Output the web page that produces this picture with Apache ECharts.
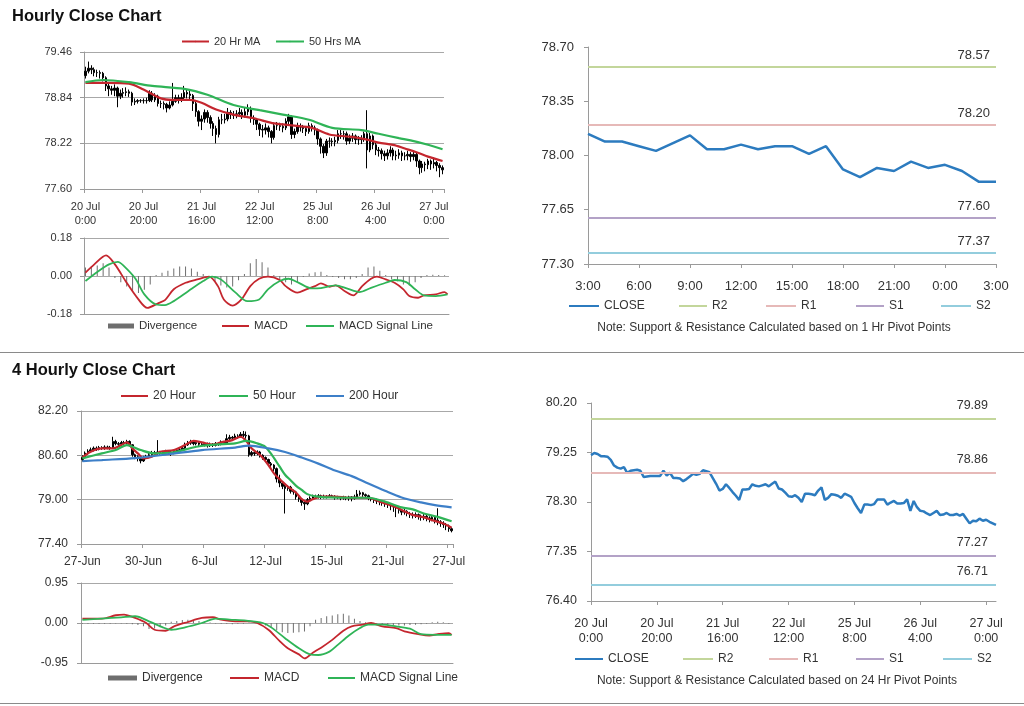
<!DOCTYPE html>
<html><head><meta charset="utf-8">
<script src="https://cdn.jsdelivr.net/npm/echarts@6/dist/echarts.min.js"></script>
<style>html,body{margin:0;padding:0;background:#fff}#c{width:1024px;height:706px}</style>
</head><body><div id="c"></div><script>
// ---------- tick labels ----------
const hourLabels = ['20 Jul\n0:00','20 Jul\n20:00','21 Jul\n16:00','22 Jul\n12:00','25 Jul\n8:00','26 Jul\n4:00','27 Jul\n0:00'];
const fourHLabels = ['27-Jun','30-Jun','6-Jul','12-Jul','15-Jul','21-Jul','27-Jul'];
const pivotHours = ['3:00','4:00','5:00','6:00','7:00','8:00','9:00','10:00','11:00','12:00','13:00','14:00','15:00','16:00','17:00','18:00','19:00','20:00','21:00','22:00','23:00','0:00','1:00','2:00','3:00'];

// ---------- hourly OHLC (20 Jul 0:00 .. 27 Jul ~3:00) ----------
const hOpen = [79.14,79.20,79.24,79.22,79.18,79.18,79.17,79.11,79.00,78.96,78.94,78.97,78.86,78.90,78.91,78.92,78.90,78.78,78.79,78.80,78.80,78.80,78.80,78.90,78.81,78.86,78.76,78.76,78.75,78.70,78.74,78.79,78.84,78.82,78.84,78.91,78.89,78.87,78.76,78.65,78.52,78.55,78.64,78.57,78.49,78.42,78.34,78.54,78.54,78.55,78.64,78.61,78.60,78.62,78.64,78.60,78.65,78.69,78.56,78.54,78.48,78.41,78.40,78.43,78.38,78.30,78.46,78.46,78.45,78.43,78.52,78.58,78.34,78.38,78.45,78.44,78.42,78.38,78.46,78.43,78.40,78.28,78.18,78.09,78.25,78.25,78.24,78.26,78.35,78.35,78.35,78.25,78.29,78.32,78.27,78.27,78.28,78.35,78.13,78.32,78.20,78.13,78.12,78.08,78.05,78.09,78.13,78.05,78.06,78.09,78.05,78.05,78.07,78.04,78.07,77.98,77.89,77.94,77.93,77.98,77.94,77.96,77.92,77.89];
const hClose = [79.20,79.24,79.22,79.18,79.18,79.17,79.11,79.00,78.96,78.94,78.97,78.86,78.90,78.91,78.92,78.90,78.78,78.79,78.80,78.80,78.80,78.80,78.90,78.81,78.86,78.76,78.76,78.75,78.70,78.74,78.79,78.84,78.82,78.84,78.91,78.89,78.87,78.76,78.65,78.52,78.55,78.64,78.57,78.49,78.42,78.34,78.54,78.54,78.55,78.64,78.61,78.60,78.62,78.64,78.60,78.65,78.69,78.56,78.54,78.48,78.41,78.40,78.43,78.38,78.30,78.46,78.46,78.45,78.43,78.52,78.58,78.34,78.38,78.45,78.44,78.42,78.38,78.46,78.43,78.40,78.28,78.18,78.09,78.25,78.25,78.24,78.26,78.35,78.35,78.35,78.25,78.29,78.32,78.27,78.27,78.28,78.35,78.13,78.32,78.20,78.13,78.12,78.08,78.05,78.09,78.13,78.05,78.06,78.09,78.05,78.05,78.07,78.04,78.07,77.98,77.89,77.94,77.93,77.98,77.94,77.96,77.92,77.89,77.86];
const hLow = [79.10,79.17,79.16,79.13,79.12,79.10,79.06,78.93,78.86,78.88,78.86,78.71,78.82,78.84,78.86,78.85,78.73,78.74,78.76,78.77,78.76,78.76,78.78,78.78,78.78,78.72,78.70,78.68,78.64,78.68,78.72,78.77,78.76,78.78,78.80,78.83,78.80,78.66,78.58,78.45,78.40,78.50,78.50,78.42,78.32,78.22,78.30,78.48,78.49,78.52,78.55,78.55,78.56,78.58,78.55,78.57,78.60,78.50,78.47,78.40,78.32,78.30,78.34,78.30,78.22,78.27,78.40,78.39,78.37,78.40,78.46,78.28,78.29,78.35,78.38,78.36,78.32,78.35,78.38,78.33,78.20,78.08,78.02,78.05,78.16,78.18,78.18,78.22,78.28,78.27,78.20,78.21,78.24,78.21,78.20,78.21,78.24,77.88,78.10,78.14,78.06,78.04,78.00,77.98,78.00,78.04,77.99,77.99,78.01,77.98,77.99,77.99,77.97,77.99,77.90,77.80,77.82,77.84,77.87,77.86,77.88,77.84,77.76,77.80];
const hHigh = [79.26,79.33,79.28,79.25,79.22,79.21,79.19,79.13,79.03,79.00,79.02,78.99,78.95,78.97,78.98,78.95,78.92,78.83,78.82,78.82,78.83,78.84,78.94,78.93,78.90,78.88,78.80,78.79,78.77,78.79,79.04,78.88,78.88,78.90,79.00,78.95,78.93,78.89,78.79,78.67,78.60,78.68,78.67,78.60,78.52,78.46,78.58,78.62,78.62,78.70,78.67,78.66,78.67,78.70,78.68,78.70,78.75,78.72,78.60,78.56,78.50,78.47,78.49,78.46,78.40,78.50,78.51,78.50,78.49,78.56,78.62,78.60,78.42,78.50,78.49,78.47,78.45,78.50,78.49,78.46,78.42,78.30,78.21,78.28,78.30,78.29,78.31,78.40,78.40,78.39,78.38,78.34,78.36,78.34,78.32,78.33,78.38,78.67,78.36,78.34,78.23,78.17,78.15,78.12,78.14,78.18,78.16,78.12,78.14,78.12,78.10,78.12,78.10,78.12,78.10,78.00,77.98,77.97,78.01,78.00,78.03,77.98,77.95,77.92];
// moving averages [bar index, value]
const h20Ma = [[0,79.04],[8,79.04],[15,79.03],[20,78.95],[26,78.83],[30,78.81],[36,78.81],[40,78.77],[45,78.68],[51,78.61],[58,78.56],[65,78.49],[72,78.46],[78,78.43],[84,78.34],[91,78.31],[97,78.27],[101,78.23],[106,78.20],[110,78.15],[114,78.10],[118,78.04],[123,77.98]];
const h50Ma = [[0,79.05],[6,79.08],[15,79.05],[23,79.00],[34,78.96],[42,78.88],[51,78.74],[60,78.67],[68,78.61],[77,78.54],[85,78.43],[95,78.40],[101,78.35],[108,78.29],[112,78.26],[118,78.20],[123,78.14]];
const hMacd = [[0,0.016],[3,0.055],[7,0.098],[10,0.055],[14,-0.032],[18,-0.111],[21,-0.151],[25,-0.127],[27,-0.114],[30,-0.063],[34,-0.032],[38,-0.016],[42,-0.003],[45,-0.048],[47,-0.111],[50,-0.140],[53,-0.111],[56,-0.048],[59,-0.013],[62,-0.003],[66,-0.019],[68,-0.048],[72,-0.079],[75,-0.063],[78,-0.048],[80,-0.035],[83,-0.051],[85,-0.044],[88,-0.071],[91,-0.092],[94,-0.048],[97,-0.013],[99,-0.003],[102,-0.016],[105,-0.032],[108,-0.063],[110,-0.095],[113,-0.103],[115,-0.092],[119,-0.087],[122,-0.076],[123,-0.087]];
const hSignal = [[0,-0.024],[4,0.019],[8,0.055],[11,0.067],[13,0.048],[17,-0.013],[20,-0.087],[24,-0.135],[27,-0.138],[30,-0.119],[35,-0.071],[40,-0.024],[43,-0.003],[46,-0.016],[51,-0.079],[55,-0.119],[59,-0.111],[62,-0.063],[66,-0.024],[69,-0.013],[72,-0.029],[77,-0.059],[80,-0.057],[85,-0.044],[89,-0.060],[93,-0.076],[97,-0.056],[102,-0.032],[105,-0.019],[109,-0.029],[112,-0.063],[115,-0.092],[119,-0.095],[123,-0.087]];
// divergence, one value per two bars
const hDiv = [0.04,0.045,0.05,0.06,0.04,-0.01,-0.03,-0.05,-0.07,-0.08,-0.065,-0.04,0.005,0.015,0.025,0.035,0.045,0.045,0.035,0.02,0.01,-0.005,-0.025,-0.045,-0.055,-0.05,-0.02,0.01,0.06,0.08,0.065,0.04,0.005,-0.015,-0.03,-0.04,-0.03,-0.005,0.012,0.018,0.02,0.005,-0.005,-0.01,-0.015,-0.015,-0.01,0.01,0.04,0.045,0.025,0.005,-0.015,-0.025,-0.04,-0.045,-0.03,-0.01,0.005,0.006,0.005,0.004];

// ---------- 1 Hr pivot chart ----------
const pivotClose = [78.14,78.09,78.09,78.06,78.03,78.08,78.13,78.04,78.04,78.07,78.04,78.06,78.06,78.01,78.06,77.91,77.86,77.92,77.90,77.96,77.92,77.94,77.90,77.83,77.83];
const pivot1h = {R2:78.57, R1:78.20, S1:77.60, S2:77.37};
const pivot24h = {R2:79.89, R1:78.86, S1:77.27, S2:76.71};

// ---------- 4 hourly OHLC (27 Jun .. 27 Jul) ----------
const fOpen = [80.45,80.52,80.68,80.75,80.80,80.86,80.82,80.88,80.85,80.90,80.88,80.86,81.10,81.02,81.00,81.06,81.04,81.10,80.98,80.62,80.55,80.48,80.40,80.52,80.55,80.62,80.70,80.66,80.72,80.68,80.70,80.74,80.70,80.68,80.74,80.78,80.80,80.86,80.98,81.04,81.08,81.02,81.06,81.00,80.98,81.02,80.95,81.00,80.96,81.02,81.00,81.08,81.04,81.20,81.25,81.22,81.30,81.28,81.36,81.32,81.30,80.62,80.70,80.66,80.72,80.60,80.52,80.45,80.30,80.25,80.12,79.75,79.60,79.48,79.40,79.45,79.30,79.28,79.10,79.02,78.90,78.85,79.00,79.05,79.12,79.10,79.14,79.08,79.12,79.10,79.14,79.12,79.08,79.10,79.06,79.08,79.06,79.10,79.04,79.10,79.20,79.25,79.18,79.14,79.06,79.02,78.98,78.95,78.92,78.90,78.85,78.82,78.78,78.74,78.70,78.62,78.55,78.58,78.50,78.46,78.44,78.46,78.40,78.36,78.40,78.34,78.30,78.36,78.26,78.20,78.15,78.10,78.05,77.95];
const fClose = [80.52,80.68,80.75,80.80,80.86,80.82,80.88,80.85,80.90,80.88,80.86,81.10,81.02,81.00,81.06,81.04,81.10,80.98,80.62,80.55,80.48,80.40,80.52,80.55,80.62,80.70,80.66,80.72,80.68,80.70,80.74,80.70,80.68,80.74,80.78,80.80,80.86,80.98,81.04,81.08,81.02,81.06,81.00,80.98,81.02,80.95,81.00,80.96,81.02,81.00,81.08,81.04,81.20,81.25,81.22,81.30,81.28,81.36,81.32,81.30,80.62,80.70,80.66,80.72,80.60,80.52,80.45,80.30,80.25,80.12,79.75,79.60,79.48,79.40,79.45,79.30,79.28,79.10,79.02,78.90,78.85,79.00,79.05,79.12,79.10,79.14,79.08,79.12,79.10,79.14,79.12,79.08,79.10,79.06,79.08,79.06,79.10,79.04,79.10,79.20,79.25,79.18,79.14,79.06,79.02,78.98,78.95,78.92,78.90,78.85,78.82,78.78,78.74,78.70,78.62,78.55,78.58,78.50,78.46,78.44,78.46,78.40,78.36,78.40,78.34,78.30,78.36,78.26,78.20,78.15,78.10,78.05,77.95,77.88];
const fLow = [80.38,80.48,80.62,80.70,80.74,80.76,80.78,80.80,80.80,80.82,80.80,80.84,80.96,80.94,80.96,80.98,81.00,80.92,80.55,80.46,80.38,80.31,80.36,80.46,80.50,80.58,80.60,80.62,80.62,80.62,80.64,80.64,80.58,80.64,80.68,80.72,80.76,80.82,80.94,80.98,80.96,80.96,80.94,80.90,80.92,80.88,80.90,80.90,80.92,80.94,80.96,80.98,81.00,81.14,81.14,81.18,81.20,81.24,81.26,81.20,80.55,80.56,80.58,80.60,80.52,80.44,80.36,80.22,80.16,80.02,79.62,79.45,79.38,78.50,79.32,79.22,79.18,79.00,78.92,78.78,78.63,78.80,78.96,79.00,79.04,79.04,79.02,79.04,79.04,79.06,79.06,79.00,79.02,78.98,79.00,78.98,78.96,78.94,79.00,79.06,79.14,79.10,79.06,78.98,78.94,78.88,78.84,78.80,78.78,78.74,78.70,78.62,78.56,78.37,78.50,78.44,78.46,78.40,78.34,78.32,78.34,78.28,78.24,78.26,78.22,78.18,78.22,78.14,78.08,78.02,77.98,77.90,77.84,77.82];
const fHigh = [80.60,80.74,80.82,80.88,80.92,80.92,80.94,80.93,80.96,80.95,80.94,81.27,81.16,81.08,81.12,81.12,81.16,81.14,81.00,80.66,80.60,80.52,80.58,80.62,80.70,80.76,80.76,81.15,80.76,80.76,80.80,80.78,80.76,80.80,80.84,80.86,80.94,81.06,81.12,81.16,81.14,81.12,81.10,81.06,81.08,81.06,81.06,81.04,81.08,81.06,81.14,81.12,81.36,81.34,81.30,81.38,81.36,81.44,81.48,81.46,81.34,80.76,80.74,80.78,80.76,80.64,80.56,80.48,80.36,80.28,80.16,79.90,79.66,79.54,79.52,79.50,79.36,79.32,79.14,79.06,78.96,79.06,79.12,79.18,79.18,79.20,79.18,79.18,79.16,79.20,79.18,79.16,79.14,79.12,79.14,79.12,79.14,79.12,79.18,79.35,79.33,79.28,79.22,79.18,79.10,79.06,79.04,79.00,78.98,78.96,78.90,78.88,78.84,78.78,78.74,78.66,78.66,78.62,78.56,78.54,78.54,78.50,78.46,78.48,78.46,78.40,78.44,78.40,78.69,78.26,78.22,78.16,78.10,78.00];
const f20Ma = [[0,80.52],[3,80.73],[7,80.85],[11,80.85],[14,80.97],[16,81.07],[18,80.85],[20,80.67],[22,80.49],[25,80.55],[28,80.73],[33,80.79],[37,80.97],[40,81.12],[43,81.07],[47,80.99],[50,81.07],[54,81.15],[57,81.27],[59,81.12],[61,80.85],[64,80.61],[67,80.25],[69,79.95],[72,79.65],[74,79.47],[77,79.25],[79,79.02],[81,78.93],[83,79.02],[86,79.11],[91,79.11],[96,79.07],[101,79.07],[104,79.05],[108,78.90],[112,78.76],[115,78.63],[119,78.45],[123,78.36],[126,78.26],[130,78.14],[133,77.99]];
const f50Ma = [[0,80.49],[7,80.67],[12,80.79],[16,80.97],[21,80.79],[26,80.67],[33,80.71],[41,80.91],[48,80.99],[55,81.03],[59,81.12],[63,81.03],[66,80.90],[68,80.65],[71,80.20],[73,79.90],[75,79.70],[77,79.50],[79,79.35],[81,79.20],[84,79.12],[89,79.08],[96,79.07],[103,79.07],[109,78.93],[115,78.72],[119,78.65],[123,78.50],[128,78.38],[133,78.22]];
const f200Ma = [[0,80.39],[7,80.43],[19,80.50],[31,80.64],[43,80.79],[55,80.88],[60,80.95],[67,80.85],[73,80.72],[79,80.52],[85,80.30],[91,80.05],[97,79.85],[103,79.58],[109,79.32],[115,79.08],[122,78.90],[127,78.80],[133,78.72]];
const fMacd = [[0,0.104],[7,0.104],[12,0.184],[15,0.20],[19,0.12],[23,0.0],[26,-0.16],[30,-0.184],[33,-0.08],[38,0.024],[43,0.12],[47,0.136],[50,0.08],[55,0.04],[60,0.04],[63,0.0],[67,-0.16],[71,-0.425],[74,-0.60],[78,-0.745],[80,-0.84],[83,-0.705],[86,-0.585],[90,-0.40],[94,-0.184],[97,-0.08],[101,-0.04],[104,0.0],[108,-0.08],[113,-0.12],[116,-0.20],[121,-0.265],[125,-0.297],[128,-0.265],[132,-0.24],[133,-0.28]];
const fSignal = [[0,0.072],[7,0.104],[14,0.136],[19,0.16],[24,0.04],[29,-0.104],[32,-0.16],[37,-0.104],[43,0.0],[48,0.104],[53,0.08],[59,0.056],[65,0.0],[68,-0.104],[73,-0.36],[78,-0.60],[82,-0.745],[85,-0.76],[89,-0.68],[92,-0.52],[96,-0.297],[100,-0.12],[103,-0.04],[108,-0.04],[113,-0.08],[118,-0.136],[122,-0.265],[127,-0.28],[133,-0.28]];
const fDiv = [-0.02,-0.02,-0.02,-0.015,-0.02,-0.015,-0.01,-0.01,-0.02,-0.03,-0.05,-0.08,-0.14,-0.13,-0.10,-0.06,0.03,0.05,0.07,0.08,0.07,0.05,0.03,0.01,-0.01,-0.02,-0.02,-0.03,-0.02,-0.02,0.01,0.01,-0.02,-0.06,-0.12,-0.18,-0.22,-0.24,-0.23,-0.22,-0.20,-0.08,0.08,0.12,0.16,0.18,0.21,0.22,0.18,0.10,0.05,0.02,0.01,-0.01,-0.03,-0.04,-0.05,-0.06,-0.06,-0.05,-0.04,-0.03,-0.02,0.02,0.03,0.02,-0.02];

// ---------- build ----------
const FONT = '"Liberation Sans", Arial, sans-serif';
const TXT = '#333';
const AX = '#9a9a9a';
const hIdx = hClose.map((_, i) => String(i));
const fIdx = fClose.map((_, i) => String(i));
const hCandles = hClose.map((c, i) => [hOpen[i], c, hLow[i], hHigh[i]]);
const fCandles = fClose.map((c, i) => [fOpen[i], c, fLow[i], fHigh[i]]);
const hDivData = hDiv.map((v, k) => [2 * k, v]);
const fDivData = fDiv.map((v, k) => [2 * k, v]);

const RED = '#c4262e', GREEN = '#2fb457', BLUE = '#3d7fc8', CLOSEC = '#2c7bbf', DIVC = '#6e6e6e';
const LEVEL_COLORS = {R2:'#c3d69b', R1:'#e6b9b8', S1:'#b3a2c7', S2:'#93cddd'};

function yAx(grid, min, max, interval, split, fs, margin) {
  return {gridIndex: grid, type: 'value', min, max, interval, scale: true,
    axisLine: {show: true, lineStyle: {color: AX}},
    axisTick: {show: true, length: 4, lineStyle: {color: AX}},
    splitLine: {show: split, lineStyle: {color: '#a8a8a8'}},
    axisLabel: {fontSize: fs, color: TXT, fontFamily: FONT, margin, formatter: v => v.toFixed(2)}};
}
function xCat(grid, data, gap, opts) {
  return Object.assign({gridIndex: grid, type: 'category', data, boundaryGap: gap,
    axisLine: {show: true, onZero: false, lineStyle: {color: AX}},
    axisTick: {show: false}, axisLabel: {show: false}, splitLine: {show: false}}, opts || {});
}
function lg(name, left, cy, w, h, fs, icon) {
  const it = {name}; if (icon) it.icon = icon;
  return {data: [it], left, top: cy - 7, itemWidth: w, itemHeight: h, itemGap: 0, padding: 0,
    selectedMode: false, textStyle: {fontSize: fs, color: TXT, fontFamily: FONT}};
}
function line(name, x, y, data, color, width) {
  return {name, type: 'line', xAxisIndex: x, yAxisIndex: y, data, symbol: 'none', smooth: 0.3,
    color, lineStyle: {color, width}, z: 3};
}
function level(name, x, y, value, fs, dist) {
  const color = LEVEL_COLORS[name];
  return {name, type: 'line', xAxisIndex: x, yAxisIndex: y, data: [], symbol: 'none', color,
    lineStyle: {color, width: 2},
    markLine: {silent: true, symbol: 'none', animation: false,
      lineStyle: {color, width: 2, type: 'solid'},
      label: {show: true, position: 'insideEndTop', distance: dist, formatter: value.toFixed(2),
        color: TXT, fontSize: fs, fontFamily: FONT},
      data: [{yAxis: value}]}};
}

const hFmt = v => (Number(v) % 20 === 0 ? (hourLabels[Number(v) / 20] || '') : '');
const fFmt = v => (Number(v) % 22 === 0 ? (fourHLabels[Number(v) / 22] || '') : '');
const candleStyle = {color: '#000', color0: '#000', borderColor: '#000', borderColor0: '#000', borderWidth: 1};

const option = {
  animation: false,
  textStyle: {fontFamily: FONT},
  grid: [
    {left: 84, top: 52, width: 360, height: 137},
    {left: 84, top: 238, width: 365, height: 76},
    {left: 588, top: 47, width: 408, height: 217},
    {left: 81, top: 411, width: 372, height: 133},
    {left: 81, top: 583, width: 372, height: 80},
    {left: 591, top: 403, width: 405, height: 198}
  ],
  xAxis: [
    xCat(0, hIdx, true, {axisTick: {show: true, interval: 19, length: 4, lineStyle: {color: AX}},
      axisLabel: {show: true, interval: 19, formatter: hFmt, fontSize: 11, color: TXT, lineHeight: 14, margin: 11, fontFamily: FONT}}),
    xCat(1, hIdx, true),
    xCat(2, pivotHours, false, {axisTick: {show: true, interval: 2, length: 4, lineStyle: {color: AX}},
      axisLabel: {show: true, interval: 2, fontSize: 13, color: TXT, margin: 16, fontFamily: FONT}}),
    xCat(3, fIdx, true, {axisTick: {show: true, interval: 21, length: 4, lineStyle: {color: AX}},
      axisLabel: {show: true, interval: 21, formatter: fFmt, fontSize: 12, color: TXT, margin: 12, fontFamily: FONT}}),
    xCat(4, fIdx, true),
    xCat(5, hIdx, false, {axisTick: {show: true, interval: 19, length: 4, lineStyle: {color: AX}},
      axisLabel: {show: true, interval: 19, formatter: hFmt, fontSize: 12.5, color: TXT, lineHeight: 15, margin: 15, fontFamily: FONT}})
  ],
  yAxis: [
    yAx(0, 77.60, 79.46, 0.62, true, 11, 12),
    yAx(1, -0.18, 0.18, 0.18, true, 11, 12),
    yAx(2, 77.30, 78.70, 0.35, false, 13, 14),
    yAx(3, 77.40, 82.20, 1.60, true, 12, 13),
    yAx(4, -0.95, 0.95, 0.95, true, 12, 13),
    yAx(5, 76.40, 80.20, 0.95, false, 12.5, 14)
  ],
  legend: [
    lg('20 Hr MA', 181, 43, 27, 2, 11),
    lg('50 Hrs MA', 275, 43, 28, 2, 11),
    lg('Divergence', 108, 327, 26, 5, 11.5, 'rect'),
    lg('MACD', 221, 327, 27, 2, 11.5),
    lg('MACD Signal Line', 305, 327, 28, 2, 11.5),
    lg('CLOSE', 568, 307, 30, 2, 12),
    lg('R2', 678, 307, 28, 2, 12),
    lg('R1', 765, 307, 30, 2, 12),
    lg('S1', 855, 307, 28, 2, 12),
    lg('S2', 940, 307, 30, 2, 12),
    lg('20 Hour', 120, 397, 27, 2, 12),
    lg('50 Hour', 218, 397, 29, 2, 12),
    lg('200 Hour', 315, 397, 28, 2, 12),
    lg('Divergence', 108, 679, 29, 5, 12, 'rect'),
    lg('MACD', 229, 679, 29, 2, 12),
    lg('MACD Signal Line', 327, 679, 27, 2, 12),
    lg('CLOSE', 574, 660, 28, 2, 12),
    lg('R2', 682, 660, 30, 2, 12),
    lg('R1', 768, 660, 29, 2, 12),
    lg('S1', 855, 660, 28, 2, 12),
    lg('S2', 942, 660, 29, 2, 12)
  ],
  series: [
    {name: 'Hourly', type: 'candlestick', xAxisIndex: 0, yAxisIndex: 0, data: hCandles, barWidth: 2, itemStyle: candleStyle},
    line('20 Hr MA', 0, 0, h20Ma, RED, 2.2),
    line('50 Hrs MA', 0, 0, h50Ma, GREEN, 2.2),
    {name: 'Divergence', type: 'bar', xAxisIndex: 1, yAxisIndex: 1, data: hDivData, barWidth: 1, color: DIVC, itemStyle: {color: DIVC}},
    line('MACD', 1, 1, hMacd, RED, 1.8),
    line('MACD Signal Line', 1, 1, hSignal, GREEN, 1.8),
    {name: 'CLOSE', type: 'line', xAxisIndex: 2, yAxisIndex: 2, data: pivotClose, symbol: 'none', color: CLOSEC, lineStyle: {color: CLOSEC, width: 2.5}, z: 3},
    level('R2', 2, 2, pivot1h.R2, 13, [6, 5]),
    level('R1', 2, 2, pivot1h.R1, 13, [6, 5]),
    level('S1', 2, 2, pivot1h.S1, 13, [6, 5]),
    level('S2', 2, 2, pivot1h.S2, 13, [6, 5]),
    {name: 'FourHourly', type: 'candlestick', xAxisIndex: 3, yAxisIndex: 3, data: fCandles, barWidth: 2, itemStyle: candleStyle},
    line('20 Hour', 3, 3, f20Ma, RED, 2.2),
    line('50 Hour', 3, 3, f50Ma, GREEN, 2.2),
    line('200 Hour', 3, 3, f200Ma, BLUE, 2.2),
    {name: 'Divergence', type: 'bar', xAxisIndex: 4, yAxisIndex: 4, data: fDivData, barWidth: 1, color: DIVC, itemStyle: {color: DIVC}},
    line('MACD', 4, 4, fMacd, RED, 1.8),
    line('MACD Signal Line', 4, 4, fSignal, GREEN, 1.8),
    {name: 'CLOSE', type: 'line', xAxisIndex: 5, yAxisIndex: 5, data: hClose, symbol: 'none', color: CLOSEC, lineStyle: {color: CLOSEC, width: 2.5}, z: 3},
    level('R2', 5, 5, pivot24h.R2, 12.5, [8, 7]),
    level('R1', 5, 5, pivot24h.R1, 12.5, [8, 7]),
    level('S1', 5, 5, pivot24h.S1, 12.5, [8, 7]),
    level('S2', 5, 5, pivot24h.S2, 12.5, [8, 7])
  ],
  graphic: [
    {type: 'text', left: 12, top: 8, style: {text: 'Hourly Close Chart', font: 'bold 16.5px ' + FONT, fill: '#111'}},
    {type: 'text', left: 12, top: 362, style: {text: '4 Hourly Close Chart', font: 'bold 16.5px ' + FONT, fill: '#111'}},
    {type: 'line', shape: {x1: 0, y1: 352.5, x2: 1024, y2: 352.5}, style: {stroke: '#8a8a8a', lineWidth: 1}},
    {type: 'line', shape: {x1: 0, y1: 703.5, x2: 1024, y2: 703.5}, style: {stroke: '#8a8a8a', lineWidth: 1}},
    {type: 'text', x: 774, y: 328, style: {text: 'Note: Support & Resistance Calculated based on 1 Hr Pivot Points', font: '12px ' + FONT, fill: TXT, textAlign: 'center', textVerticalAlign: 'middle'}},
    {type: 'text', x: 777, y: 681, style: {text: 'Note: Support & Resistance Calculated based on 24 Hr Pivot Points', font: '12px ' + FONT, fill: TXT, textAlign: 'center', textVerticalAlign: 'middle'}}
  ]
};
const chart = echarts.init(document.getElementById('c'));
chart.setOption(option);
</script></body></html>
